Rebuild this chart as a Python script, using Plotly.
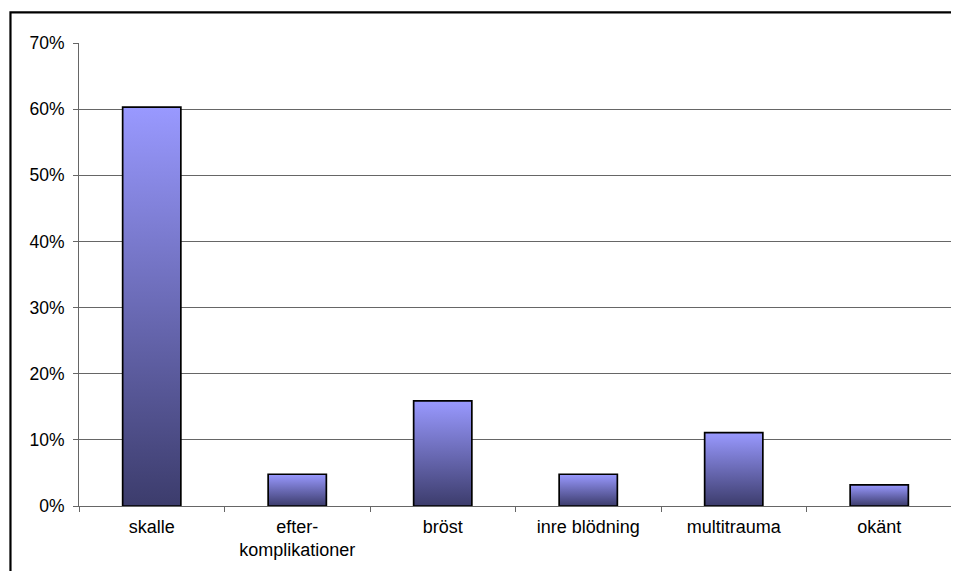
import plotly.graph_objects as go

# ---- data ----
categories = ["skalle", "efter-<br>komplikationer", "bröst", "inre blödning", "multitrauma", "okänt"]
values = [60.3, 4.8, 15.9, 4.8, 11.1, 3.2]   # percent
y_ticks = [0, 10, 20, 30, 40, 50, 60, 70]
y_tick_labels = [f"{t}%" for t in y_ticks]

BAR_WIDTH = 0.4
GRAD = [[0, "#3c3c6c"], [1, "#9999ff"]]
FONT = "Liberation Sans, Arial, sans-serif"

fig = go.Figure()

# gradient bodies of the bars (one filled polygon per bar, on a hidden linear axis)
for i, v in enumerate(values):
    fig.add_trace(go.Scatter(
        x=[i - BAR_WIDTH / 2, i - BAR_WIDTH / 2, i + BAR_WIDTH / 2, i + BAR_WIDTH / 2, i - BAR_WIDTH / 2],
        y=[0, v, v, 0, 0],
        mode="lines", fill="toself",
        fillgradient=dict(type="vertical", colorscale=GRAD),
        line=dict(width=0, color="rgba(0,0,0,0)"),
        hoverinfo="skip", showlegend=False,
        xaxis="x", yaxis="y",
    ))

# the bars themselves (outline) on the category axis
fig.add_trace(go.Bar(
    x=categories, y=values, width=BAR_WIDTH,
    marker=dict(color="rgba(0,0,0,0)", line=dict(color="black", width=1.7)),
    showlegend=False, xaxis="x2", yaxis="y",
    hovertemplate="%{x}: %{y}%<extra></extra>",
))

n = len(categories)
# the page body has an 8px margin, so the figure is 8px smaller than the window
fig.update_layout(
    width=951, height=563,
    margin=dict(l=71, r=7, t=35, b=65),
    paper_bgcolor="white", plot_bgcolor="white",
    font=dict(family=FONT, size=17, color="black"),
    xaxis=dict(
        type="linear", range=[-0.5, n - 0.5],
        tickvals=[k - 0.5 for k in range(n + 1)],
        showticklabels=False, ticks="outside", ticklen=5, tickcolor="#666", tickwidth=1,
        showgrid=False, zeroline=False, showline=True, linecolor="#666", linewidth=1,
        fixedrange=True,
    ),
    xaxis2=dict(
        type="category", overlaying="x", side="bottom", anchor="y",
        range=[-0.5, n - 0.5], ticks="", showgrid=False, zeroline=False, showline=False,
        tickfont=dict(family=FONT, size=18, color="black"),
        ticklabelstandoff=8,
        fixedrange=True,
    ),
    yaxis=dict(
        range=[0, 70], tickvals=y_ticks, ticktext=y_tick_labels,
        ticks="outside", ticklen=5, tickcolor="#666", tickwidth=1,
        showgrid=True, gridcolor="#666", gridwidth=1,
        showline=True, linecolor="#666", linewidth=1, zeroline=False,
        tickfont=dict(family=FONT, size=17.5, color="black"),
        ticklabelstandoff=5,
        fixedrange=True,
    ),
    shapes=[
        # right edge of the plot area
        dict(type="line", xref="paper", yref="paper", x0=1, x1=1, y0=-0.012, y1=1,
             line=dict(color="#aaaaaa", width=2)),
        # outer chart border (extends past the cropped image on right and bottom)
        dict(type="rect", xref="paper", yref="paper", x0=-0.0785, x1=1.2, y0=-0.3, y1=1.066,
             line=dict(color="black", width=2.2), layer="above"),
    ],
)

fig.write_html("out.html")
